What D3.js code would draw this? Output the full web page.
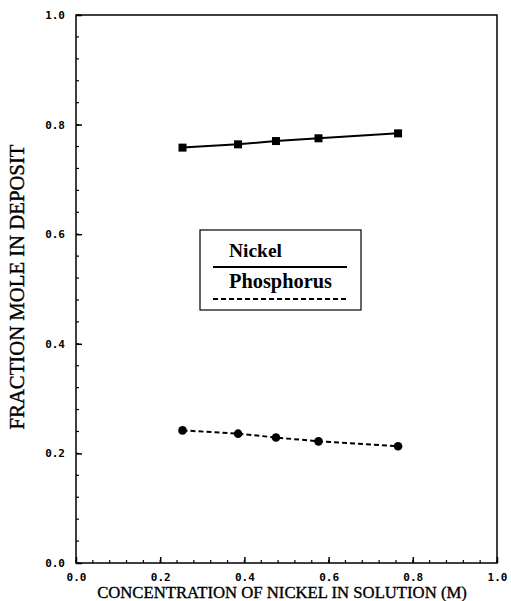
<!DOCTYPE html>
<html>
<head>
<meta charset="utf-8">
<script src="https://cdn.jsdelivr.net/npm/d3@7"></script>
<style>
  body { margin: 0; background: #fff; }
</style>
</head>
<body>
<div id="chart"></div>
<script>
// Data
const concentration = [0.253, 0.385, 0.475, 0.576, 0.765];
const nickel = [0.758, 0.764, 0.770, 0.775, 0.784];
const phosphorus = [0.242, 0.236, 0.229, 0.222, 0.213];
const tickValues = [0.0, 0.2, 0.4, 0.6, 0.8, 1.0];
const legendLabels = ["Nickel", "Phosphorus"];

const width = 511, height = 601;
const margin = { top: 15, right: 14, bottom: 38, left: 76 };

const svg = d3.select("#chart").append("svg")
    .attr("width", width)
    .attr("height", height);

const x = d3.scaleLinear().domain([0, 1]).range([margin.left, width - margin.right]);
const y = d3.scaleLinear().domain([0, 1]).range([height - margin.bottom, margin.top]);

// fit a text element to a target length by scaling its font size
function fitText(sel, target) {
    const node = sel.node();
    const fs = parseFloat(sel.style("font-size"));
    const len = node.getComputedTextLength();
    if (len > 0) sel.style("font-size", (fs * target / len) + "px");
}

// Frame
svg.append("rect")
    .attr("x", x(0)).attr("y", y(1))
    .attr("width", x(1) - x(0)).attr("height", y(0) - y(1))
    .attr("fill", "none").attr("stroke", "#000").attr("stroke-width", 1.5);

const minor = d3.range(0, 1.0001, 0.04);

// Bottom axis (ticks pointing inside)
const xAxis = svg.append("g")
    .attr("transform", "translate(0," + y(0) + ")")
    .call(d3.axisBottom(x).tickValues(tickValues).tickSize(-6).tickPadding(10)
        .tickFormat(d3.format(".1f")));
xAxis.select(".domain").remove();
xAxis.selectAll("line").attr("stroke-width", 1.5);
xAxis.append("g").selectAll("line").data(minor).join("line")
    .attr("x1", d => x(d)).attr("x2", d => x(d))
    .attr("y1", 0).attr("y2", -3)
    .attr("stroke", "#000").attr("stroke-width", 1.2);

// Left axis
const yAxis = svg.append("g")
    .attr("transform", "translate(" + x(0) + ",0)")
    .call(d3.axisLeft(y).tickValues(tickValues).tickSize(-6).tickPadding(11)
        .tickFormat(d3.format(".1f")));
yAxis.select(".domain").remove();
yAxis.selectAll("line").attr("stroke-width", 1.5);
yAxis.append("g").selectAll("line").data(minor).join("line")
    .attr("y1", d => y(d)).attr("y2", d => y(d))
    .attr("x1", 0).attr("x2", 3)
    .attr("stroke", "#000").attr("stroke-width", 1.2);

svg.selectAll(".tick text")
    .style("font-family", "'DejaVu Sans Mono', monospace")
    .style("font-weight", "bold")
    .style("font-size", "11px")
    .attr("fill", "#000");

// Axis titles
const xTitle = svg.append("text")
    .attr("x", 282)
    .attr("y", 598)
    .attr("text-anchor", "middle")
    .style("font-family", "'Liberation Serif', serif")
    .style("font-size", "14px")
    .attr("stroke", "#000").attr("stroke-width", 0.35)
    .text("CONCENTRATION OF NICKEL IN SOLUTION (M)");
fitText(xTitle, 370);

const yTitle = svg.append("text")
    .attr("transform", "translate(24,287) rotate(-90)")
    .attr("text-anchor", "middle")
    .style("font-family", "'Liberation Serif', serif")
    .style("font-size", "16px")
    .attr("stroke", "#000").attr("stroke-width", 0.4)
    .text("FRACTION MOLE IN DEPOSIT");
fitText(yTitle, 285);

// Series
const nickelPts = concentration.map((c, i) => [c, nickel[i]]);
const phosPts = concentration.map((c, i) => [c, phosphorus[i]]);
const line = d3.line().x(d => x(d[0])).y(d => y(d[1]));

svg.append("path")
    .datum(nickelPts)
    .attr("d", line)
    .attr("fill", "none")
    .attr("stroke", "#000")
    .attr("stroke-width", 2);

svg.append("path")
    .datum(phosPts)
    .attr("d", line)
    .attr("fill", "none")
    .attr("stroke", "#000")
    .attr("stroke-width", 2)
    .attr("stroke-dasharray", "5,3");

svg.selectAll(".sq").data(nickelPts).join("rect")
    .attr("class", "sq")
    .attr("x", d => x(d[0]) - 4).attr("y", d => y(d[1]) - 4)
    .attr("width", 8).attr("height", 8)
    .attr("fill", "#000");

svg.selectAll(".dot").data(phosPts).join("circle")
    .attr("class", "dot")
    .attr("cx", d => x(d[0])).attr("cy", d => y(d[1]))
    .attr("r", 4.3)
    .attr("fill", "#000");

// Legend
const legend = svg.append("g").attr("transform", "translate(200,230)");
legend.append("rect")
    .attr("width", 161).attr("height", 80)
    .attr("fill", "#fff").attr("stroke", "#000").attr("stroke-width", 1.2);
const legendWidths = [53, 103];
legend.selectAll("text").data(legendLabels).join("text")
    .attr("x", 29)
    .attr("y", (d, i) => 27 + i * 31)
    .style("font-family", "'Liberation Serif', serif")
    .style("font-weight", "bold")
    .style("font-size", "15px")
    .text(d => d)
    .each(function(d, i) { fitText(d3.select(this), legendWidths[i]); });
legend.selectAll("line").data(legendLabels).join("line")
    .attr("x1", 13).attr("x2", 147)
    .attr("y1", (d, i) => 37 + i * 32).attr("y2", (d, i) => 37 + i * 32)
    .attr("stroke", "#000")
    .attr("stroke-width", 2)
    .attr("stroke-dasharray", (d, i) => i === 0 ? null : "5,3");
</script>
</body>
</html>
